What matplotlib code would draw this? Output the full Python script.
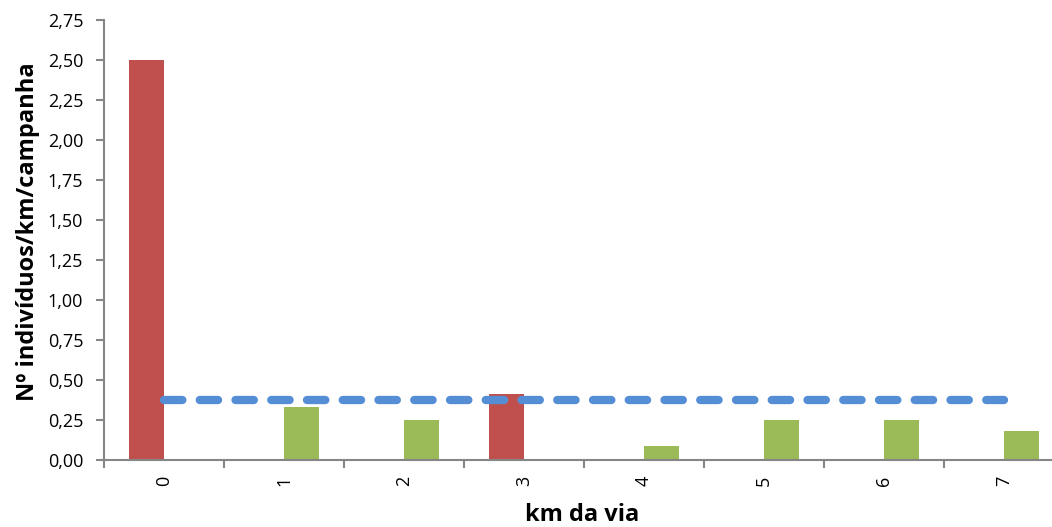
import matplotlib
matplotlib.use("Agg")
import matplotlib.pyplot as plt
import numpy as np
from matplotlib.ticker import FuncFormatter, FixedLocator

categories = ["0", "1", "2", "3", "4", "5", "6", "7"]
serie_vermelha = [2.50, 0, 0, 0.41, 0, 0, 0, 0]
serie_verde = [0, 0.33, 0.25, 0, 0.09, 0.25, 0.25, 0.18]
media = [0.375] * 8
y_ticks = [0, 0.25, 0.5, 0.75, 1.0, 1.25, 1.5, 1.75, 2.0, 2.25, 2.5, 2.75]

plt.rcParams['font.family'] = ['Open Sans', 'DejaVu Sans']

W, H = 1052, 527
fig = plt.figure(figsize=(W / 100, H / 100), dpi=100)
ax = fig.add_axes([104 / W, 1 - 460 / H, 960 / W, 440 / H])

x = np.arange(len(categories))
w = 0.29
red_vals = np.array(serie_vermelha)
green_vals = np.array(serie_verde)
mr = red_vals > 0
mg = green_vals > 0
ax.bar(x[mr] - 0.145, red_vals[mr], width=w, color='#C0504D', zorder=2)
ax.bar(x[mg] + 0.145, green_vals[mg], width=w, color='#9BBB59', zorder=2)
ax.plot(x, media, color='#558ED5', lw=6, linestyle=(0, (2.2, 2.09)),
        dash_capstyle='round', zorder=3)

ax.set_xlim(-0.5, 7.5)
ax.set_ylim(0, 2.75)
ax.set_yticks(y_ticks)
ax.yaxis.set_major_formatter(FuncFormatter(lambda v, p: f"{v:.2f}".replace('.', ',')))
ax.set_xticks(x)
ax.set_xticklabels(categories, rotation=90, va='top', ha='center')
ax.xaxis.set_minor_locator(FixedLocator(np.arange(-0.5, 8, 1)))
ax.tick_params(axis='x', which='major', length=0, pad=11, labelsize=13)
ax.tick_params(axis='x', which='minor', length=6, width=1.5, color='#868686', direction='out')
ax.tick_params(axis='y', length=6, width=1.5, color='#868686', labelsize=13, pad=9)

for s in ['top', 'right']:
    ax.spines[s].set_visible(False)
for s in ['left', 'bottom']:
    ax.spines[s].set_color('#868686')
    ax.spines[s].set_linewidth(1.5)

fig.text(28 / W, 1 - 232 / H, "Nº indivíduos/km/campanha", fontsize=17, fontweight='bold',
         rotation=90, ha='center', va='center')
fig.text(582 / W, 1 - 515 / H, "km da via", fontsize=17, fontweight='bold',
         ha='center', va='center')

fig.savefig("out.png", dpi=100)
